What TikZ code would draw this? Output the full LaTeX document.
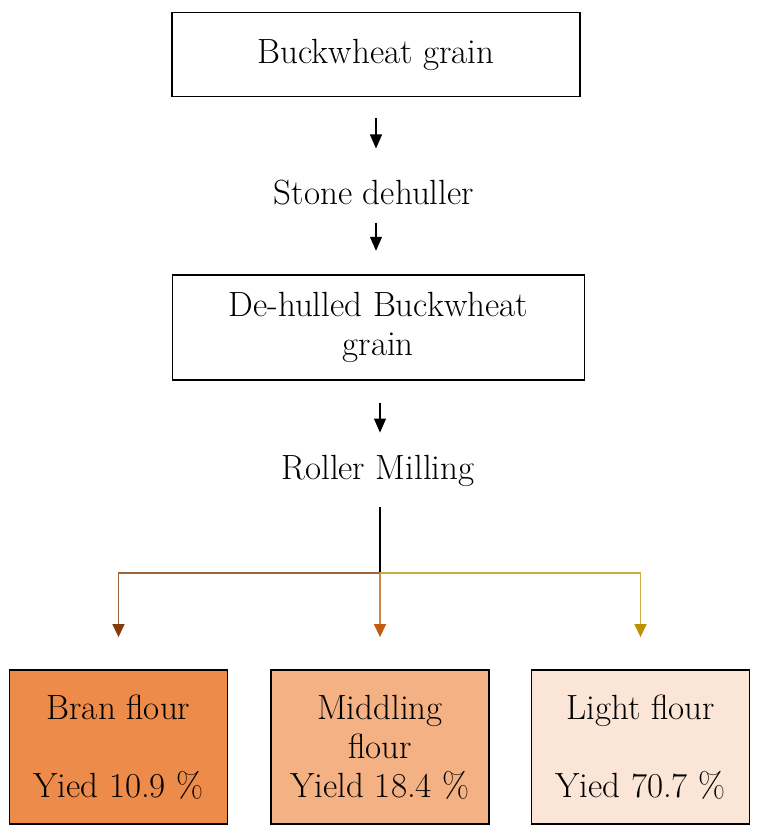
\documentclass[tikz,border=0pt]{standalone}
\usepackage{xcolor}
\usetikzlibrary{calc}
\usetikzlibrary{positioning}
\usetikzlibrary{arrows.meta}
\definecolor{bran-brown}{RGB}{132, 60, 12}
\definecolor{middling-orange}{RGB}{197, 90, 17}
\definecolor{light-gold}{RGB}{191, 144, 0}
\definecolor{bran-fill}{RGB}{237, 139, 74}
\definecolor{middling-fill}{RGB}{244, 177, 131}
\definecolor{light-fill}{RGB}{251, 229, 214}

\begin{document}
\begin{tikzpicture}[x=1pt, y=-1pt,
    every node/.style={font=\fontsize{35}{39}\selectfont, inner sep=0pt, align=center},
    stagebox/.style={draw=black, line width=1.4pt},
    flourbox/.style={draw=black, line width=1.8pt, minimum width=218pt, minimum height=154pt},
    flowarrow/.style={-{Triangle[width=12pt,length=14pt]}, line width=1.2pt},
    branch/.style={line width=1.4pt}]
\useasboundingbox (0,0) rectangle (762,838);
\node[stagebox, minimum width=408pt, minimum height=84pt] (grain) at (376,54.5) {Buckwheat grain};
\node (dehuller) at (374,192.5) {Stone dehuller};
\node[stagebox, minimum width=412pt, minimum height=105pt] (dehulled) at (378.3,327.5) {De-hulled Buckwheat\\grain};
\node (milling) at (378,471.2) {Roller Milling};
\node[flourbox, fill=bran-fill] (bran) at (118.5,747) {Bran flour\\[39pt]Yied 10.9 \%};
\node[flourbox, fill=middling-fill] (middling) at (380,747) {Middling\\flour\\Yield 18.4 \%};
\node[flourbox, fill=light-fill] (light) at (640.5,747) {Light flour\\[39pt]Yied 70.7 \%};
\coordinate (split) at (380,573);
\draw[flowarrow, shorten <=20.5pt, shorten >=31.3pt] (grain.south) -- (grain.south |- dehuller.north);
\draw[flowarrow, shorten <=17.3pt, shorten >=23.5pt] (grain.south |- dehuller.south) -- (grain.south |- dehulled.north);
\draw[flowarrow, shorten <=22pt, shorten >=22.7pt] (dehulled.south -| split) -- (split |- milling.north);
\draw[line width=1.2pt, shorten <=20.2pt] (split |- milling.south) -- (split);
\draw[branch, bran-brown!80, -{Triangle[width=12pt,length=13pt,color=bran-brown]}, shorten >=32pt] (split) -| (bran.north);
\draw[branch, light-gold!75, -{Triangle[width=12pt,length=13pt,color=light-gold]}, shorten >=32pt] (split) -| (light.north);
\draw[branch, middling-orange!75, -{Triangle[width=12pt,length=13pt,color=middling-orange]}, shorten >=32pt] (split) -- (middling.north);
\end{tikzpicture}
\end{document}
